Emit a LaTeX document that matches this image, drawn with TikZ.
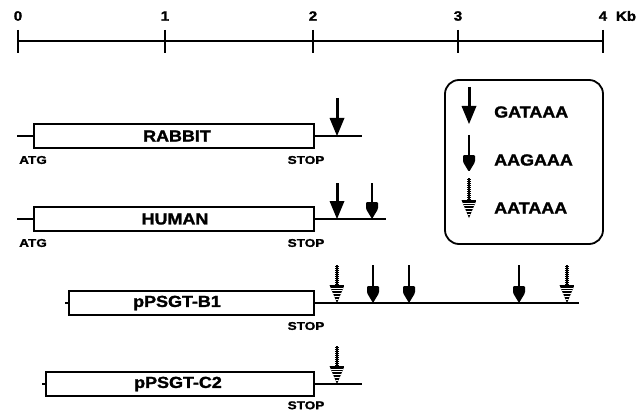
\documentclass[tikz,border=0pt]{standalone}
\usepackage{fontspec}
\newfontfamily\bigf{Liberation Sans}[FakeStretch=1.12, BoldFeatures={FakeBold=1.6}]
\newfontfamily\smf{Liberation Sans}[FakeStretch=1.2, BoldFeatures={FakeBold=1.5}]
\newcommand\arrowA[3]{%
  \draw[line width=3pt] (#1,#2) -- (#1,#3-15);
  \fill (#1-7.5,#3-18) -- (#1+7.5,#3-18) -- (#1,#3) -- cycle;}
\newcommand\arrowB[3]{%
  \draw[line width=2.2pt] (#1,#2) -- (#1,#3-12);
  \fill[rounded corners=1.2pt] (#1-6,#3-17) -- (#1+6,#3-17) -- (#1+6,#3-10) -- (#1,#3) -- (#1-6,#3-10) -- cycle;}
\newcommand\arrowC[3]{%
  \draw[line width=1.2pt] (#1,#2) -- (#1,#3-16);
  \draw[line width=3.6pt, dash pattern=on 1.4pt off 0.6pt] (#1,#2+1) -- (#1,#3-16);
  \begin{scope}
    \clip (#1-7.5,#3-18) -- (#1+7.5,#3-18) -- (#1,#3) -- cycle;
    \fill (#1-8,#3-19) rectangle (#1+8,#3+1);
    \foreach \k in {1,...,5} \draw[white, line width=0.35pt] (#1-8,#3-18+\k*2.8) -- (#1+8,#3-18+\k*2.8);
  \end{scope}}
\begin{document}
\begin{tikzpicture}[x=1pt,y=-1pt,
  gbox/.style={draw, line width=1.8pt, fill=white, minimum height=24pt, inner sep=0pt, anchor=west},
  dna/.style={line width=2.5pt},
  blabel/.style={font=\bigf\bfseries\fontsize{16}{18}\selectfont, inner sep=0pt},
  slabel/.style={font=\smf\bfseries\fontsize{11.3}{12}\selectfont, inner sep=0pt},
  tlabel/.style={font=\bigf\bfseries\fontsize{13.5}{15}\selectfont, inner sep=0pt}]
\useasboundingbox (0,0) rectangle (638,412);
% scale
\coordinate (t0) at (18,41);
\coordinate (t4) at (603,41);
\draw[line width=2.5pt] (t0) -- (t4);
\foreach \x/\l in {18/0,165/1,313/2,458/3,603/4}{
  \draw[line width=2pt] (\x,30) -- (\x,53);
  \node[tlabel] (lab\l) at (\x,16) {\l};}
\node[tlabel] (kb) at (626,16) {Kb};
% RABBIT
\node[gbox, minimum width=280pt] (rb) at (33,136) {};
\node[blabel] (rbt) at (177,136) {RABBIT};
\coordinate (rbL) at (17,136); \coordinate (rbR) at (362,136);
\draw[dna] (rbL) -- (rb.west);
\draw[dna] (rb.east) -- (rbR);
\node[slabel, anchor=west] (rbatg) at (19,160) {ATG};
\node[slabel] (rbstop) at (306,160) {STOP};
\arrowA{337}{98}{136}
% HUMAN
\node[gbox, minimum width=280pt] (hu) at (33,219) {};
\node[blabel] (hut) at (175,219) {HUMAN};
\coordinate (huL) at (17,219); \coordinate (huR) at (386,219);
\draw[dna] (huL) -- (hu.west);
\draw[dna] (hu.east) -- (huR);
\node[slabel, anchor=west] (huatg) at (19,243) {ATG};
\node[slabel] (hustop) at (306,243) {STOP};
\arrowA{337}{183}{219}
\arrowB{372}{183}{219}
% pPSGT-B1
\node[gbox, minimum width=245pt] (b1) at (68,303) {};
\node[blabel] (b1t) at (177,303) {pPSGT-B1};
\coordinate (b1L) at (65,303); \coordinate (b1R) at (579,303);
\draw[line width=2pt] (b1L) -- (b1.west);
\draw[dna] (b1.east) -- (b1R);
\node[slabel] (b1stop) at (306,326) {STOP};
\arrowC{337}{265}{303}
\arrowB{373}{265}{303}
\arrowB{409}{265}{303}
\arrowB{519}{265}{303}
\arrowC{567}{265}{303}
% pPSGT-C2
\node[gbox, minimum width=268pt] (c2) at (45,384) {};
\node[blabel] (c2t) at (178,384) {pPSGT-C2};
\coordinate (c2L) at (42,384); \coordinate (c2R) at (362,384);
\draw[line width=2pt] (c2L) -- (c2.west);
\draw[dna] (c2.east) -- (c2R);
\node[slabel, anchor=south] (c2stop) at (306,409.5) {STOP};
\arrowC{337}{346}{384}
% legend
\node[draw, line width=1.8pt, rounded corners=14pt, minimum width=158pt, minimum height=164pt, inner sep=0pt] (leg) at (524,162) {};
\arrowA{469}{87}{124}
\arrowB{469}{135}{172}
\arrowC{469}{178}{218}
\node[blabel, anchor=west] (g1) at (494,112) {GATAAA};
\node[blabel, anchor=west] (g2) at (494,160) {AAGAAA};
\node[blabel, anchor=west] (g3) at (494,208) {AATAAA};
\end{tikzpicture}
\end{document}
